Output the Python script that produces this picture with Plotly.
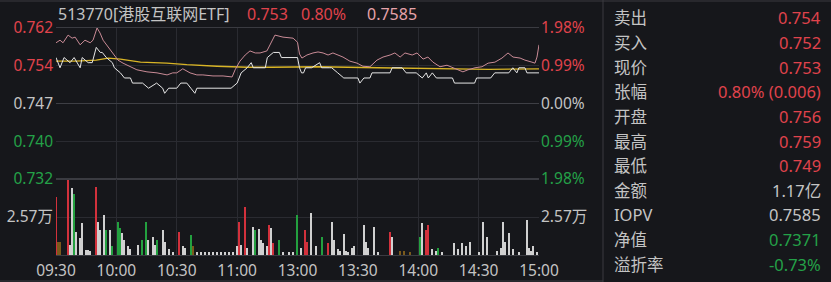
import plotly.graph_objects as go

# ---------------- data ----------------
title_code = "513770[港股互联网ETF]"
title_price = "0.753"
title_pct = "0.80%"
title_iopv = "0.7585"

prev_close = 0.747
price_tick_text = ["0.762", "0.754", "0.747", "0.740", "0.732"]
pct_tick_text = ["1.98%", "0.99%", "0.00%", "0.99%", "1.98%"]
pct_steps = [2, 1, 0, -1, -2]          # multiples of 0.99 %
vol_tick_vals = [2.57]
vol_tick_text = ["2.57万"]

time_ticks = [0, 30, 60, 90, 120, 150, 180, 210, 240]
time_labels = ["09:30", "10:00", "10:30", "11:00", "13:00", "13:30", "14:00", "14:30", "15:00"]

# price (white)
price_min = [0, 2, 4, 7, 9, 12, 13, 16, 18, 20, 22, 23, 25, 28, 29, 32, 34, 37, 38, 41, 43, 46, 50, 53, 54,
             56, 60, 62, 65, 67, 69, 70, 73, 87, 90, 92, 95, 97, 98, 104, 105, 108, 111, 112, 120, 121, 122,
             123, 124, 127, 131, 132, 136, 137, 140, 143, 150, 151, 153, 156, 157, 166, 167, 172, 174, 179,
             182, 184, 185, 187, 189, 197, 198, 208, 209, 216, 218, 225, 227, 229, 230, 233, 234, 240]
price_val = [0.756, 0.754, 0.756, 0.755, 0.756, 0.754, 0.756, 0.755, 0.755, 0.758, 0.757, 0.757, 0.756, 0.755,
             0.754, 0.753, 0.752, 0.752, 0.751, 0.751, 0.751, 0.750, 0.751, 0.750, 0.749, 0.750, 0.750, 0.751,
             0.751, 0.750, 0.749, 0.750, 0.750, 0.750, 0.751, 0.753, 0.754, 0.755, 0.754, 0.754, 0.756, 0.757,
             0.757, 0.756, 0.756, 0.754, 0.753, 0.753, 0.754, 0.754, 0.755, 0.754, 0.754, 0.754, 0.753, 0.752,
             0.752, 0.751, 0.752, 0.752, 0.753, 0.753, 0.754, 0.754, 0.753, 0.753, 0.752, 0.753, 0.752, 0.753,
             0.752, 0.752, 0.751, 0.751, 0.752, 0.752, 0.753, 0.753, 0.754, 0.753, 0.754, 0.754, 0.753, 0.753]

# IOPV (pink)
iopv_min = [0, 2, 3.5, 6, 8, 9.5, 12, 14.4, 17, 18.4, 20.4, 21.9, 23.4, 25.8, 28.3, 30.8, 33.3, 36.8, 40.2,
            45.2, 50.2, 55.2, 58, 60, 63, 66.6, 70, 73, 78, 83, 87.5, 89, 91.4, 94, 96.4, 99, 101.4, 104.8,
            107.3, 108.8, 112.8, 117.8, 120, 121, 122.2, 124.7, 127.7, 130.2, 132.7, 135.2, 137.6, 140.1,
            142.6, 146, 149.6, 152.5, 156, 159.5, 162.5, 166, 168.4, 171, 173.4, 177, 179.4, 182.4, 184.8,
            187.3, 190.8, 194.3, 197.3, 202.2, 204.7, 208.2, 211.7, 214.7, 218.1, 221.6, 224.6, 227.1,
            230.6, 233, 236.5, 238, 239, 240]
iopv_val = [0.7589, 0.7594, 0.7589, 0.7604, 0.7598, 0.7600, 0.7585, 0.7594, 0.7589, 0.7594, 0.7618, 0.7608,
            0.7594, 0.7581, 0.7569, 0.7555, 0.7549, 0.7542, 0.7536, 0.7532, 0.7530, 0.7526, 0.7530, 0.7530,
            0.7538, 0.7530, 0.7526, 0.7526, 0.7524, 0.7524, 0.7522, 0.7536, 0.7553, 0.7565, 0.7573, 0.7569,
            0.7569, 0.7573, 0.7594, 0.7604, 0.7600, 0.7598, 0.7590, 0.7567, 0.7559, 0.7565, 0.7569, 0.7571,
            0.7569, 0.7565, 0.7569, 0.7565, 0.7561, 0.7553, 0.7549, 0.7543, 0.7542, 0.7555, 0.7561, 0.7565,
            0.7569, 0.7561, 0.7569, 0.7565, 0.7569, 0.7557, 0.7561, 0.7551, 0.7542, 0.7545, 0.7540, 0.7532,
            0.7536, 0.7540, 0.7542, 0.7549, 0.7551, 0.7559, 0.7569, 0.7561, 0.7559, 0.7555, 0.7551, 0.7549,
            0.7561, 0.7585]

# average price (yellow)
avg_min = [0, 10, 20, 26, 32, 42, 55, 65, 80, 95, 107, 120, 130, 160, 195, 215, 240]
avg_val = [0.7553, 0.7553, 0.7555, 0.7559, 0.7557, 0.7551, 0.7549, 0.7546, 0.7543, 0.7541, 0.7541, 0.7542,
           0.7542, 0.7540, 0.7538, 0.7537, 0.7538]

# volume (万), direction u=up, d=down, e=flat, o=small neutral
vol_min = [0, 1, 2, 6, 7, 8, 9, 10, 12, 13, 15, 16, 17, 20, 21, 22, 24, 25, 27, 28, 31, 32, 33, 34, 36, 37,
           41, 43, 45, 46, 48, 49, 50, 53, 54, 56, 58, 61, 63, 64, 67, 68, 70, 72, 74, 76, 78, 80, 82, 84, 86,
           88, 90, 91, 92, 94, 95, 98, 99, 101, 102, 103, 105, 106, 107, 108, 111, 113, 116, 118, 120, 122,
           124, 125, 127, 129, 132, 135, 137, 138, 140, 141, 143, 144, 145, 147, 148, 153, 154, 155, 158,
           160, 166, 167, 171, 173, 176, 181, 182, 184, 185, 187, 189, 190, 192, 198, 200, 202, 204, 206,
           210, 212, 214, 219, 221, 222, 223, 225, 227, 230, 234, 235, 236, 237, 239]
vol_val = [3.9, 0.9, 0.9, 5.07, 0.7, 4.5, 4.1, 1.55, 1.15, 2.15, 0.35, 0.35, 0.25, 4.6, 2.2, 1.7, 2.7, 1.7,
           1.7, 0.6, 2.2, 1.8, 1.5, 1.0, 0.6, 0.4, 0.7, 1.0, 2.2, 1.0, 1.2, 0.7, 1.0, 1.7, 0.9, 0.4, 0.2,
           1.55, 0.6, 0.5, 1.35, 0.6, 0.2, 0.2, 0.2, 0.2, 0.2, 0.2, 0.2, 0.2, 0.2, 0.2, 0.6, 2.2, 0.7, 3.25,
           0.5, 1.9, 1.7, 1.75, 1.0, 0.8, 0.6, 2.0, 1.8, 0.8, 1.0, 0.2, 0.2, 0.2, 2.7, 0.5, 1.7, 0.9, 2.85,
           0.6, 1.2, 0.8, 2.2, 1.0, 0.4, 0.3, 1.4, 0.3, 0.2, 0.5, 0.6, 2.0, 0.9, 0.5, 1.9, 0.2, 1.55, 1.2,
           0.3, 0.3, 0.2, 1.2, 2.15, 1.7, 2.0, 0.4, 0.3, 0.5, 0.2, 0.8, 0.4, 0.8, 0.6, 0.9, 0.2, 2.2, 1.2,
           0.3, 0.5, 2.2, 0.9, 1.5, 0.4, 0.2, 2.35, 0.5, 0.3, 0.6, 0.2]
vol_dir = ["u", "o", "o", "u", "e", "e", "d", "e", "e", "e", "e", "e", "e", "u", "e", "e", "e", "d", "e",
           "d", "d", "d", "e", "e", "e", "e", "e", "d", "d", "e", "e", "e", "d", "e", "e", "e", "e", "u",
           "e", "e", "d", "o", "e", "e", "e", "e", "e", "e", "e", "e", "e", "e", "e", "u", "e", "u", "e",
           "e", "d", "e", "e", "e", "e", "u", "e", "u", "d", "e", "e", "e", "d", "e", "u", "u", "e", "e",
           "d", "u", "e", "e", "e", "e", "e", "e", "e", "e", "e", "e", "e", "e", "e", "e", "u", "e", "o",
           "o", "o", "d", "e", "u", "u", "e", "e", "d", "e", "e", "e", "e", "e", "e", "e", "e", "e", "e",
           "e", "e", "e", "e", "e", "e", "e", "e", "e", "e", "e"]

# right-hand quote panel
panel_labels = ["卖出", "买入", "现价", "张幅", "开盘", "最高", "最低", "金额", "IOPV", "净值", "溢折率"]
panel_values = ["0.754", "0.752", "0.753", "0.80% (0.006)", "0.756", "0.759", "0.749", "1.17亿", "0.7585",
                "0.7371", "-0.73%"]
panel_tone = ["u", "u", "u", "u", "u", "u", "u", "e", "e", "d", "d"]

# ---------------- style ----------------
W, H = 831, 282
BG = "#16171b"
GRID = "#2a2b31"
TXT = "#c4c4c4"
RED = "#e0434c"
GREEN = "#24a148"
PINK = "#e6a3aa"
FONT = "Noto Sans, Noto Sans CJK SC, sans-serif"
tone_color = {"u": RED, "d": GREEN, "e": TXT}
bar_color = {"u": "#d2313c", "d": "#23a03f", "e": "#d0d0d0", "o": "#7a5a1c"}


def pxx(p):
    return p / W


def pxy(p):
    return 1 - p / H


price_lo = prev_close * (1 - 0.0198)
price_hi = prev_close * (1 + 0.0198)
price_ticks = [prev_close * (1 + s * 0.0099) for s in pct_steps]
tick_tone = ["u" if s > 0 else ("d" if s < 0 else "e") for s in pct_steps]
left_text = [f'<span style="color:{tone_color[t]}">{s}</span>' for s, t in zip(price_tick_text, tick_tone)]
right_text = [f'<span style="color:{tone_color[t]}">{s}</span>' for s, t in zip(pct_tick_text, tick_tone)]

fig = go.Figure()

fig.add_trace(go.Scatter(x=avg_min, y=avg_val, mode="lines", line=dict(color="#d9b526", width=1.3),
                         xaxis="x", yaxis="y", hoverinfo="skip"))
fig.add_trace(go.Scatter(x=iopv_min, y=iopv_val, mode="lines", line=dict(color="#c98b96", width=1),
                         xaxis="x", yaxis="y", hoverinfo="skip"))
fig.add_trace(go.Scatter(x=price_min, y=price_val, mode="lines", line=dict(color="#e6e6e6", width=1),
                         xaxis="x", yaxis="y", hoverinfo="skip"))
fig.add_trace(go.Bar(x=vol_min, y=vol_val, width=0.6,
                     marker=dict(color=[bar_color[d] for d in vol_dir], line=dict(width=0)),
                     xaxis="x2", yaxis="y2", hoverinfo="skip"))
fig.add_trace(go.Scatter(x=[None], y=[None], xaxis="x", yaxis="y3", showlegend=False))
fig.add_trace(go.Scatter(x=[None], y=[None], xaxis="x2", yaxis="y4", showlegend=False))

x_dom = [pxx(56), pxx(539)]
price_dom = [pxy(179), pxy(28)]
vol_dom = [pxy(255), pxy(179)]

axfont = dict(family=FONT, size=15.5, color=TXT)
common_x = dict(range=[0, 240], domain=x_dom, tickvals=time_ticks, showgrid=True, gridcolor=GRID,
                gridwidth=1, zeroline=False, showline=True, linecolor="#3a3b41", mirror=True, ticks="",
                automargin=False)

fig.update_layout(
    template="none",
    width=W, height=H, margin=dict(l=0, r=0, t=0, b=0, pad=0),
    paper_bgcolor=BG, plot_bgcolor=BG, showlegend=False, bargap=0,
    xaxis=dict(**common_x, showticklabels=False, anchor="y"),
    xaxis2=dict(**common_x, ticktext=time_labels, showticklabels=True, tickfont=axfont, anchor="y2",
                matches="x", ticklabelstandoff=1),
    yaxis=dict(domain=price_dom, range=[price_lo, price_hi], tickvals=price_ticks, ticktext=left_text,
               tickfont=axfont, showgrid=True, gridcolor=GRID, zeroline=False, ticks="", anchor="x",
               automargin=False, ticklabelstandoff=2),
    yaxis3=dict(overlaying="y", side="right", range=[price_lo, price_hi], tickvals=price_ticks,
                ticktext=right_text, tickfont=axfont, showgrid=False, zeroline=False, anchor="x", ticks="",
                automargin=False, ticklabelstandoff=1),
    yaxis2=dict(domain=vol_dom, range=[0, 2 * vol_tick_vals[0]], tickvals=vol_tick_vals, ticktext=vol_tick_text,
                tickfont=axfont, showgrid=True, gridcolor=GRID, zeroline=False, ticks="", anchor="x2",
                automargin=False, ticklabelstandoff=2),
    yaxis4=dict(overlaying="y2", side="right", range=[0, 2 * vol_tick_vals[0]], tickvals=vol_tick_vals,
                ticktext=vol_tick_text, tickfont=axfont, showgrid=False, zeroline=False, anchor="x2", ticks="",
                automargin=False, ticklabelstandoff=1),
)

shapes = []
shapes.append(dict(type="line", xref="paper", yref="y", x0=x_dom[0], x1=x_dom[1], y0=prev_close, y1=prev_close,
                   line=dict(color="#3e3f45", width=1)))
shapes.append(dict(type="line", xref="x", yref="paper", x0=time_ticks[4], x1=time_ticks[4], y0=vol_dom[0],
                   y1=price_dom[1], line=dict(color="#55565c", width=1), layer="below"))
shapes.append(dict(type="line", xref="paper", yref="paper", x0=pxx(603), x1=pxx(603), y0=0, y1=1,
                   line=dict(color="#3a3b41", width=1)))
shapes.append(dict(type="line", xref="paper", yref="paper", x0=0, x1=1, y0=pxy(1), y1=pxy(1),
                   line=dict(color="#3a3b41", width=1)))
shapes.append(dict(type="line", xref="paper", yref="paper", x0=0, x1=pxx(603), y0=pxy(281), y1=pxy(281),
                   line=dict(color="#3a3b41", width=1)))
fig.update_layout(shapes=shapes)

ann = []
title_font = dict(family=FONT, size=16)
ann.append(dict(text=title_code, x=pxx(56), y=pxy(14), xref="paper", yref="paper", xanchor="left",
                yanchor="middle", showarrow=False, font=dict(**title_font, color=TXT)))
ann.append(dict(text=title_price, x=pxx(245), y=pxy(14), xref="paper", yref="paper", xanchor="left",
                yanchor="middle", showarrow=False, font=dict(**title_font, color=RED)))
ann.append(dict(text=title_pct, x=pxx(299), y=pxy(14), xref="paper", yref="paper", xanchor="left",
                yanchor="middle", showarrow=False, font=dict(**title_font, color=RED)))
ann.append(dict(text=title_iopv, x=pxx(365), y=pxy(14), xref="paper", yref="paper", xanchor="left",
                yanchor="middle", showarrow=False, font=dict(**title_font, color=PINK)))

row0, row_step = 18, 24.6
for i, (lab, val, tone) in enumerate(zip(panel_labels, panel_values, panel_tone)):
    yy = pxy(row0 + i * row_step)
    ann.append(dict(text=lab, x=pxx(612), y=yy, xref="paper", yref="paper", xanchor="left", yanchor="middle",
                    showarrow=False, font=dict(family=FONT, size=16.5, color=TXT)))
    ann.append(dict(text=val, x=pxx(823), y=yy, xref="paper", yref="paper", xanchor="right", yanchor="middle",
                    showarrow=False, font=dict(family=FONT, size=16.5, color=tone_color[tone])))
fig.update_layout(annotations=ann)

fig.write_html("out.html")
